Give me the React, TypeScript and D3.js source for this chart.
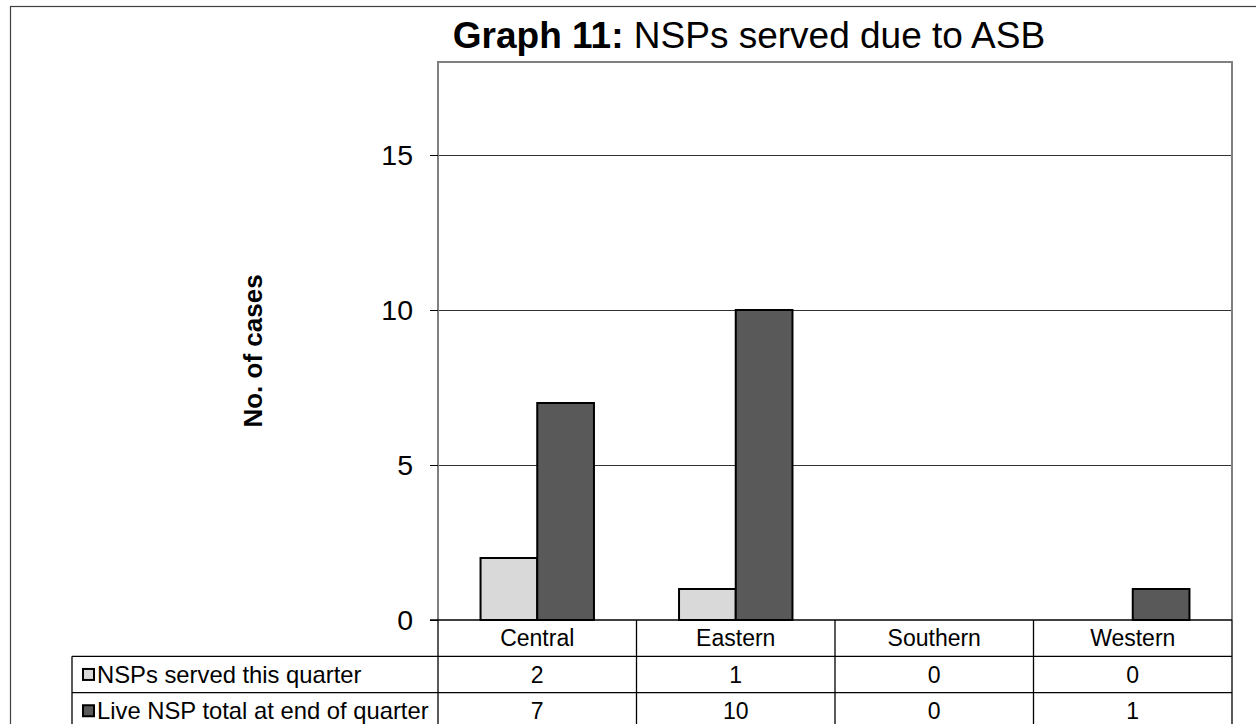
import React from "react";
import * as d3 from "d3";

const categories = ["Central", "Eastern", "Southern", "Western"];
const servedThisQuarter = [2, 1, 0, 0];
const liveTotalEndOfQuarter = [7, 10, 0, 1];
const seriesNames = ["NSPs served this quarter", "Live NSP total at end of quarter"];
const yTicks = [0, 5, 10, 15];
const yMax = 18;

const W = 1256;
const H = 724;
const FONT = "'Liberation Sans', Arial, sans-serif";

const plotLeft = 438;
const plotRight = 1232;
const plotTop = 62;
const plotBottom = 620;
const rowH = 36.3;
const tableLeft = 72;

const colors = ["#d9d9d9", "#595959"];

export default function App() {
  const x = d3.scaleBand<string>().domain(categories).range([plotLeft, plotRight]).paddingInner(0).paddingOuter(0);
  // bars occupy 2 units of a 3.5-unit slot (gap width 150%)
  const bw = x.bandwidth() / 3.5;
  const groupStart = (x.bandwidth() - 2 * bw) / 2;
  const y = d3.scaleLinear().domain([0, yMax]).range([plotBottom, plotTop]);

  const series = [servedThisQuarter, liveTotalEndOfQuarter];
  const rowTop = [plotBottom, plotBottom + rowH, plotBottom + 2 * rowH];
  const tableBottom = plotBottom + 3 * rowH;

  return (
    <svg
      width={W}
      height={H}
      style={{ position: "absolute", left: 0, top: 0, background: "#fff" }}
      fontFamily={FONT}
    >
      <rect x={0} y={0} width={W} height={H} fill="#fff" />
      {/* chart frame */}
      <rect x={10.5} y={6.5} width={W + 20} height={H + 20} fill="none" stroke="#404040" strokeWidth={1.2} />

      {/* title */}
      <text x={749} y={48} textAnchor="middle" fontSize={37} fill="#000">
        <tspan fontWeight="bold">Graph 11:</tspan>
        <tspan> NSPs served due to ASB</tspan>
      </text>

      {/* gridlines */}
      {yTicks
        .filter((t) => t > 0)
        .map((t) => (
          <line
            key={t}
            x1={plotLeft}
            x2={plotRight}
            y1={y(t) + 0.5}
            y2={y(t) + 0.5}
            stroke="#333"
            strokeWidth={1}
          />
        ))}

      {/* plot border */}
      <path
        d={`M${plotLeft},${plotBottom}V${plotTop}H${plotRight}V${plotBottom}`}
        fill="none"
        stroke="#808080"
        strokeWidth={2}
      />

      {/* bars */}
      {categories.map((c, i) =>
        series.map((s, k) =>
          s[i] > 0 ? (
            <rect
              key={c + k}
              x={(x(c) as number) + groupStart + k * bw}
              y={y(s[i])}
              width={bw}
              height={plotBottom - y(s[i])}
              fill={colors[k]}
              stroke="#000"
              strokeWidth={2}
            />
          ) : null
        )
      )}

      {/* y axis ticks and labels */}
      {yTicks.map((t) => (
        <g key={t}>
          <line x1={plotLeft - 8} x2={plotLeft} y1={y(t) + 0.5} y2={y(t) + 0.5} stroke="#000" strokeWidth={1} />
          <text x={413} y={y(t)} dy="0.36em" textAnchor="end" fontSize={28.5} fill="#000">
            {t}
          </text>
        </g>
      ))}

      {/* y axis title */}
      <text
        transform={`translate(262,${351}) rotate(-90)`}
        textAnchor="middle"
        fontSize={26}
        fontWeight="bold"
        fill="#000"
      >
        No. of cases
      </text>

      {/* data table */}
      <g stroke="#000" strokeWidth={1.3} fill="none">
        <line x1={plotLeft - 8} x2={plotRight} y1={plotBottom} y2={plotBottom} />
        <line x1={tableLeft} x2={plotRight} y1={rowTop[1]} y2={rowTop[1]} />
        <line x1={tableLeft} x2={plotRight} y1={rowTop[2]} y2={rowTop[2]} />
        <line x1={tableLeft} x2={plotRight} y1={tableBottom} y2={tableBottom} />
        <line x1={tableLeft} x2={tableLeft} y1={rowTop[1]} y2={tableBottom} />
        {categories.map((c) => (
          <line key={c} x1={x(c) as number} x2={x(c) as number} y1={plotBottom} y2={tableBottom} />
        ))}
        <line x1={plotRight} x2={plotRight} y1={plotBottom} y2={tableBottom} />
      </g>

      {categories.map((c) => (
        <text
          key={c}
          x={(x(c) as number) + x.bandwidth() / 2}
          y={rowTop[0] + rowH / 2}
          dy="0.36em"
          textAnchor="middle"
          fontSize={23}
          fill="#000"
        >
          {c}
        </text>
      ))}

      {series.map((s, k) => (
        <g key={k}>
          <rect
            x={83}
            y={rowTop[k + 1] + rowH / 2 - 5.5}
            width={11}
            height={11}
            fill={colors[k]}
            stroke="#000"
            strokeWidth={2}
          />
          <text x={97} y={rowTop[k + 1] + rowH / 2} dy="0.36em" fontSize={23.8} fill="#000">
            {seriesNames[k]}
          </text>
          {categories.map((c, i) => (
            <text
              key={c}
              x={(x(c) as number) + x.bandwidth() / 2}
              y={rowTop[k + 1] + rowH / 2}
              dy="0.36em"
              textAnchor="middle"
              fontSize={23}
              fill="#000"
            >
              {s[i]}
            </text>
          ))}
        </g>
      ))}
    </svg>
  );
}
